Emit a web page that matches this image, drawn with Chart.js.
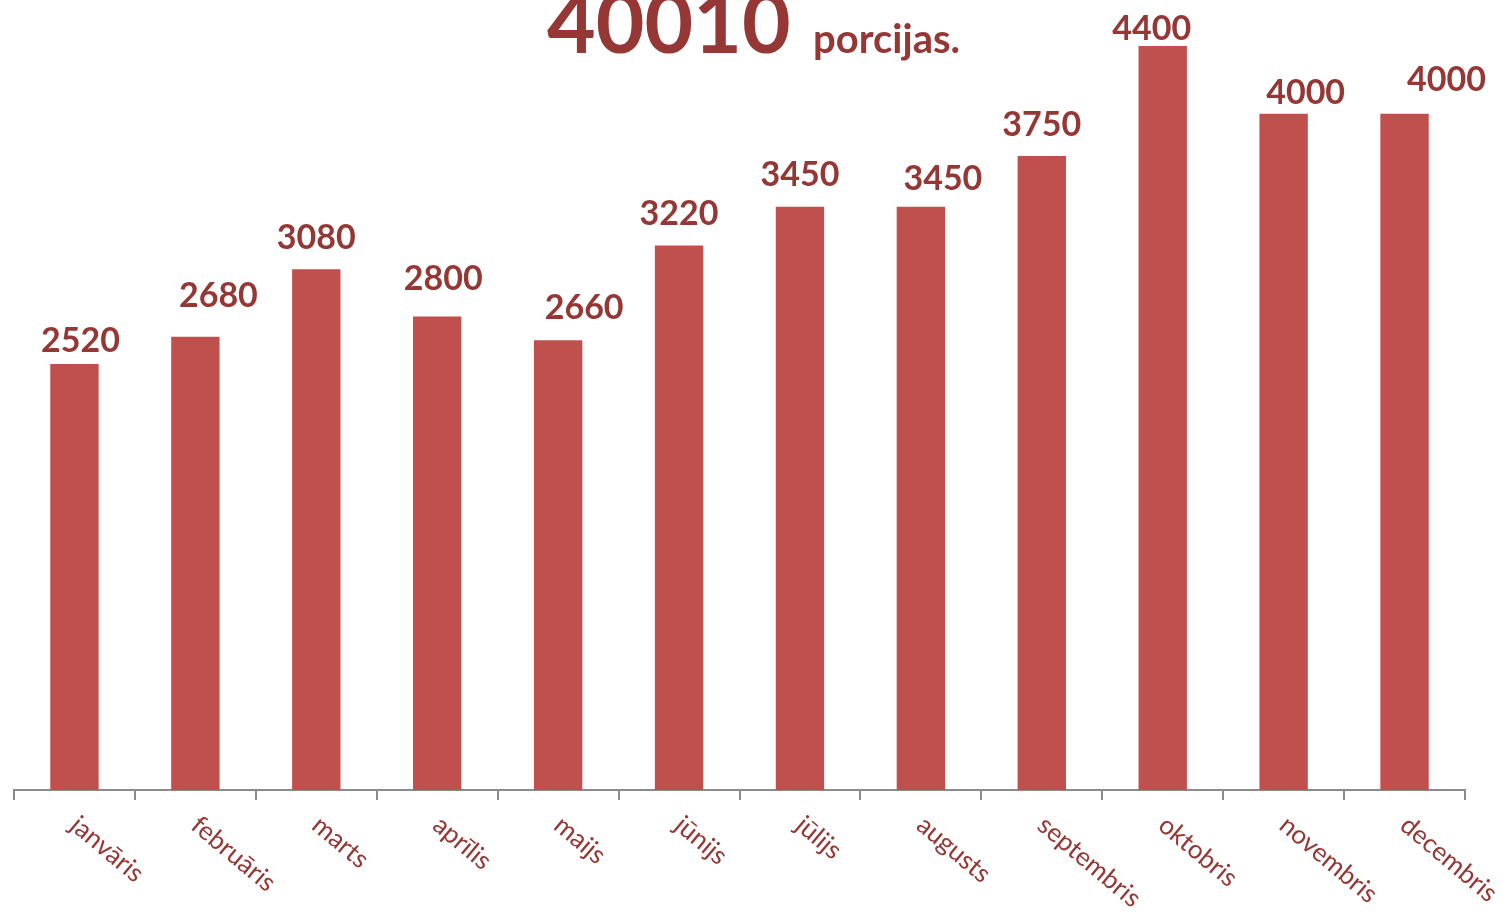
<!DOCTYPE html>
<html>
<head>
<meta charset="utf-8">
<script src="https://cdn.jsdelivr.net/npm/chart.js@4.4.1/dist/chart.umd.min.js"></script>
<style>
  html,body{margin:0;padding:0;background:#fff;}
  #wrap{width:1507px;height:915px;position:relative;}
</style>
</head>
<body>
<div id="wrap"><canvas id="c" width="1507" height="915"></canvas></div>
<script>
// monthly portions
const months = ["janvāris","februāris","marts","aprīlis","maijs","jūnijs","jūlijs","augusts","septembris","oktobris","novembris","decembris"];
const portions = [2520,2680,3080,2800,2660,3220,3450,3450,3750,4400,4000,4000];
const totalText = "40010";
const unitText = "porcijas.";
// hand-placed value label nudges (x shift, gap above bar)
const labelDx = [6,23,0,6,26,0,0,22,0,-11,22,42];
const labelGap = [12,30,20,27,21,21,21,17,20,6,10,23];

const RED = "#C0504D", DARK = "#953735";

const overlay = {
  id:"overlay",
  afterDraw(chart){
    const ctx = chart.ctx, x = chart.scales.x, y = chart.scales.y;
    ctx.save();
    // value labels
    ctx.fillStyle = DARK;
    ctx.font = "bold 34px Lato";
    ctx.textAlign = "center"; ctx.textBaseline = "alphabetic";
    portions.forEach((v,i)=>{
      ctx.fillText(String(v), x.getPixelForValue(i)+labelDx[i], y.getPixelForValue(v)-labelGap[i]);
    });
    // rotated month labels
    ctx.font = "26px Lato";
    ctx.textAlign = "left";
    months.forEach((m,i)=>{
      ctx.save();
      ctx.translate(x.getPixelForValue(i)-6, 828);
      ctx.rotate(40*Math.PI/180);
      ctx.fillText(m,0,0);
      ctx.restore();
    });
    // title
    ctx.font = "bold 84px Lato";
    ctx.fillText(totalText, 547, 53);
    ctx.font = "bold 40px Lato";
    ctx.fillText(unitText, 813, 53);
    ctx.restore();
  }
};

new Chart(document.getElementById("c"), {
  type:"bar",
  data:{labels:months, datasets:[{data:portions, backgroundColor:RED, barPercentage:0.4, categoryPercentage:1}]},
  options:{
    responsive:false, animation:false,
    layout:{padding:{left:14,right:42,top:0,bottom:0}},
    plugins:{legend:{display:false}, tooltip:{enabled:false}, title:{display:false}},
    scales:{
      x:{
        grid:{offset:true, drawOnChartArea:false, drawTicks:true, tickLength:10, color:"#8c8c8c", lineWidth:2},
        border:{color:"#8c8c8c", width:2},
        ticks:{display:false},
        afterFit:s=>{s.height=125;}
      },
      y:{display:false, min:0, max:4672}
    }
  },
  plugins:[overlay]
});
</script>
</body>
</html>
